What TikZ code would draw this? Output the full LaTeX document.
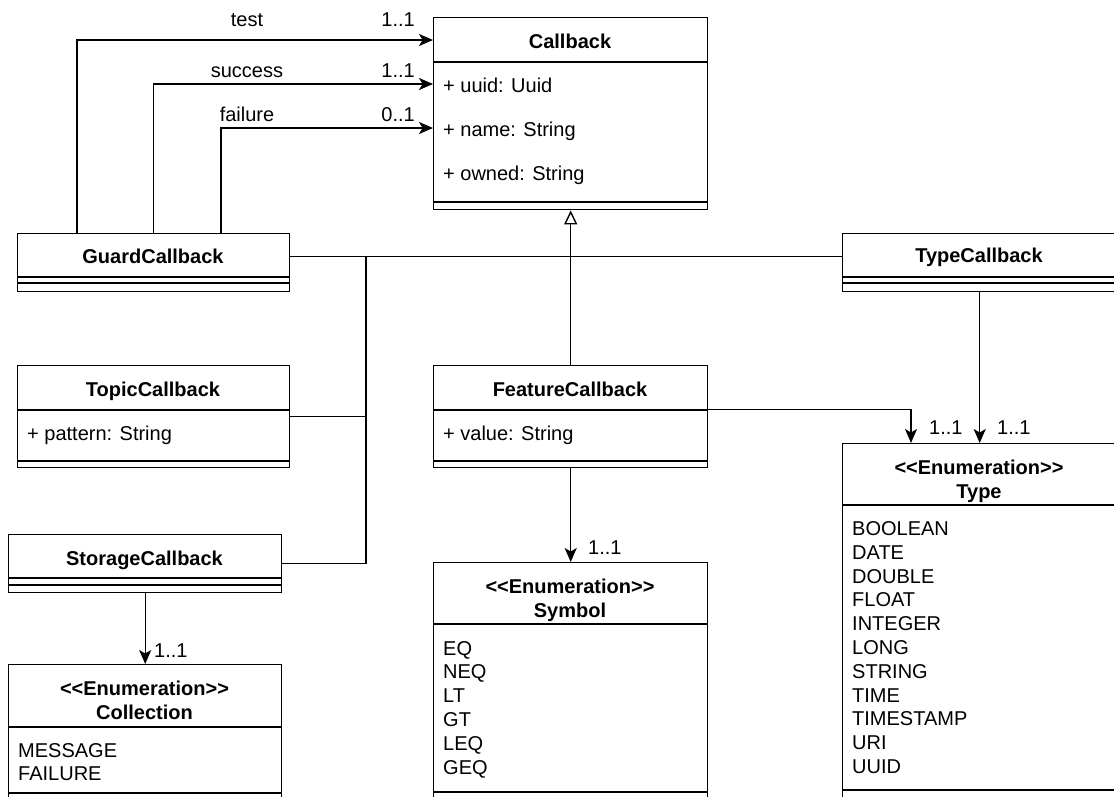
\documentclass[tikz,border=0pt]{standalone}
\usepackage{fontspec}
\setmainfont{Liberation Sans}
\usetikzlibrary{arrows.meta}
\tikzset{
  cls/.style={draw, line width=1.4pt, inner sep=0pt, anchor=north west, fill=white},
  ln/.style={line width=1.4pt},
  assoc/.style={line width=1.4pt, -{Stealth[length=14pt,width=12pt,inset=3.5pt]}},
  gen/.style={line width=1.4pt, -{Triangle[open,length=14pt,width=13pt,fill=white]}},
  txt/.style={inner sep=0pt, font=\fontsize{20}{24}\selectfont},
  ttl/.style={txt, font=\fontsize{20}{24}\selectfont\bfseries, anchor=base},
  att/.style={txt, anchor=base west},
  lbl/.style={txt, anchor=base}
}
\newcommand{\enumst}{{<}{<}Enumeration{>}{>}}
\begin{document}
\begin{tikzpicture}[x=1pt,y=-1pt]
\useasboundingbox (0,0) rectangle (1114,796);
\clip (0,0) rectangle (1114,796);
\fill[white] (0,0) rectangle (1114,796);

% ---------- class boxes ----------
\node[cls, minimum width=274pt, minimum height=192pt] (callback) at (433,17) {};
\node[cls, minimum width=272pt, minimum height=58pt] (guard) at (17,233) {};
\node[cls, minimum width=274pt, minimum height=58pt] (typecb) at (842,233) {};
\node[cls, minimum width=272pt, minimum height=102pt] (topic) at (17,365) {};
\node[cls, minimum width=274pt, minimum height=102pt] (feature) at (433,365) {};
\node[cls, minimum width=273pt, minimum height=58pt] (storage) at (8,534) {};
\node[cls, minimum width=273pt, minimum height=200pt] (collection) at (8,664) {};
\node[cls, minimum width=274pt, minimum height=300pt] (symbol) at (433,562) {};
\node[cls, minimum width=274pt, minimum height=400pt] (type) at (842,443) {};

% ---------- compartment lines ----------
\foreach \n/\a/\b in {callback/45/185, guard/44/50, typecb/44/50, topic/45/96,
  feature/45/96, storage/44/51, collection/63/129, symbol/62/230, type/62/347}{
  \draw[ln] ([yshift=-\a pt]\n.north west) -- ([yshift=-\a pt]\n.north east);
  \draw[ln] ([yshift=-\b pt]\n.north west) -- ([yshift=-\b pt]\n.north east);
}

% ---------- titles ----------
\node[ttl] (callbackT) at (570,48) {Callback};
\node[ttl] (guardT) at (153,263) {GuardCallback};
\node[ttl] (typecbT) at (979,262) {TypeCallback};
\node[ttl] (topicT) at (153,396) {TopicCallback};
\node[ttl] (featureT) at (570,396) {FeatureCallback};
\node[ttl] (storageT) at (144.5,565) {StorageCallback};
\node[ttl] (collectionS) at (144.5,695) {\enumst};
\node[ttl] (collectionT) at (144.5,719) {Collection};
\node[ttl] (symbolS) at (570,593) {\enumst};
\node[ttl] (symbolT) at (570,617) {Symbol};
\node[ttl] (typeS) at (979,474) {\enumst};
\node[ttl] (typeT) at (979,498) {Type};

% ---------- attributes ----------
\node[att] (cb1) at (443,92.5) {+ uuid: Uuid};
\node[att] (cb2) at (443,136.5) {+ name: String};
\node[att] (cb3) at (443,180.5) {+ owned: String};
\node[att] (tp1) at (27,440) {+ pattern: String};
\node[att] (ft1) at (443,440) {+ value: String};

\node[att] (co1) at (18,757) {MESSAGE};
\node[att] (co2) at (18,780.5) {FAILURE};

\foreach \t [count=\i from 0] in {EQ,NEQ,LT,GT,LEQ,GEQ}
  \node[att] (sy\i) at (443,655+\i*23.8) {\t};

\foreach \t [count=\i from 0] in {BOOLEAN,DATE,DOUBLE,FLOAT,INTEGER,LONG,STRING,TIME,TIMESTAMP,URI,UUID}
  \node[att] (ty\i) at (852,535.5+\i*23.8) {\t};

% ---------- generalizations ----------
\coordinate (vj) at (366,256);
\draw[ln] ([yshift=6pt]guard.east) -- ([yshift=6pt]typecb.west);
\draw[ln] (topic.east) -| (vj);
\draw[ln] (storage.east) -| (vj);
\draw[gen] (feature.north) -- (callback.south);

% ---------- associations ----------
\draw[assoc] ([xshift=60pt]guard.north west) |- ([yshift=-23pt]callback.north west);
\draw[assoc] (guard.north) |- ([yshift=-67pt]callback.north west);
\draw[assoc] ([xshift=204pt]guard.north west) |- ([yshift=-111pt]callback.north west);
\draw[assoc] (storage.south) -- (collection.north);
\draw[assoc] (feature.south) -- (symbol.north);
\draw[assoc] (typecb.south) -- (type.north);
\draw[assoc] ([yshift=7pt]feature.east) -| ([xshift=69pt]type.north west);

% ---------- labels ----------
\node[lbl] (lt) at (247,26) {test};
\node[lbl] (ls) at (247,77) {success};
\node[lbl] (lf) at (247,121) {failure};
\node[txt, anchor=base east] (mt) at (415,26) {1..1};
\node[txt, anchor=base east] (ms) at (415,77) {1..1};
\node[txt, anchor=base east] (mf) at (415,121) {0..1};
\node[att] (mc) at (154,657) {1..1};
\node[att] (msy) at (588,554) {1..1};
\node[att] (mty1) at (929,434) {1..1};
\node[att] (mty2) at (997,434) {1..1};
\end{tikzpicture}
\end{document}
